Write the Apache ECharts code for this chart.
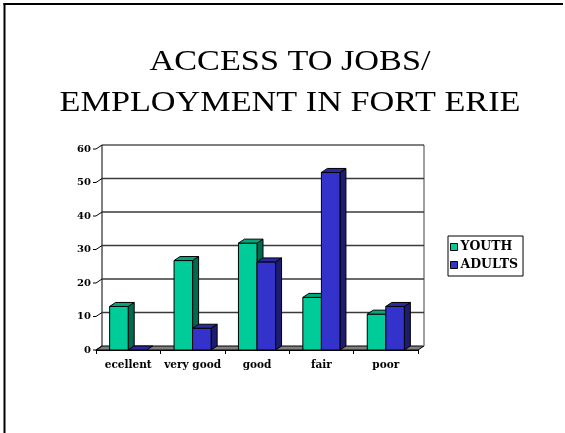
<!DOCTYPE html>
<html>
<head>
<meta charset="utf-8">
<script src="https://cdn.jsdelivr.net/npm/echarts@6/dist/echarts.min.js"></script>
<style>
  html, body { margin: 0; padding: 0; background: #fff; }
  #chart { width: 565px; height: 433px; }
</style>
</head>
<body>
<div id="chart"></div>
<script>
// Survey answers about access to jobs / employment
const categories = ['ecellent', 'very good', 'good', 'fair', 'poor'];
const youthValues = [13, 26.7, 31.9, 15.7, 10.7];
const adultValues = [0, 6.5, 26.3, 53, 13];
const seriesNames = ['YOUTH', 'ADULTS'];
const yTicks = [0, 10, 20, 30, 40, 50, 60];
const titleLines = ['ACCESS TO JOBS/', 'EMPLOYMENT IN FORT ERIE'];

// depth of the pseudo-3D walls and columns, in pixels
const DX = 6, DY = -4;
const labelFont = 'DejaVu Serif';

const palette = {
  youth: { front: '#00CC99', side: '#006A50', top: '#00A67C' },
  adults: { front: '#3333CC', side: '#1C1C70', top: '#2A2AA0' }
};

const chart = echarts.init(document.getElementById('chart'), null, { renderer: 'canvas' });

// back wall, floor and gridlines
function renderWall(params, api) {
  const cs = params.coordSys;
  const x0 = cs.x, x1 = cs.x + cs.width;
  const v = api.value(1);
  const y = api.coord([0, v])[1];
  const children = [];
  if (v === 0) {
    const yt = api.coord([0, yTicks[yTicks.length - 1]])[1];
    children.push({
      type: 'polygon',
      shape: { points: [[x0, y], [x1, y], [x1 + DX, y + DY], [x0 + DX, y + DY]] },
      style: { fill: '#808080', stroke: '#000', lineWidth: 1 }
    });
    children.push({
      type: 'line',
      shape: { x1: x0 + DX, y1: y + DY, x2: x0 + DX, y2: yt + DY },
      style: { stroke: '#000', lineWidth: 1 }
    });
    children.push({
      type: 'line',
      shape: { x1: x1 + DX, y1: y + DY, x2: x1 + DX, y2: yt + DY },
      style: { stroke: '#808080', lineWidth: 1.5 }
    });
  } else {
    const isTop = v === yTicks[yTicks.length - 1];
    children.push({
      type: 'line',
      shape: { x1: x0 + DX, y1: y + DY, x2: x1 + DX, y2: y + DY },
      style: { stroke: isTop ? '#000' : '#3a3a3a', lineWidth: isTop ? 1 : 1.3 }
    });
  }
  children.push({
    type: 'line',
    shape: { x1: x0 - 3, y1: y, x2: x0, y2: y },
    style: { stroke: '#000', lineWidth: 1 }
  });
  children.push({
    type: 'line',
    shape: { x1: x0, y1: y, x2: x0 + DX, y2: y + DY },
    style: { stroke: '#000', lineWidth: 1 }
  });
  return { type: 'group', children };
}

// one extruded column; side 0 sits left of the category centre, side 1 right
function makeColumn(side, colors) {
  return function (params, api) {
    const idx = api.value(0);
    const v = api.value(1);
    const top = api.coord([idx, v]);
    const base = api.coord([idx, 0]);
    const bw = api.size([1, 0])[0] * 0.288;
    const xl = side === 0 ? top[0] - bw : top[0];
    const xr = xl + bw;
    const yt = top[1], yb = base[1];
    const edge = { stroke: '#000', lineWidth: 1 };
    const children = [];
    if (yb - yt > 0.5) {
      children.push({
        type: 'polygon',
        shape: { points: [[xr, yt], [xr + DX, yt + DY], [xr + DX, yb + DY], [xr, yb]] },
        style: Object.assign({ fill: colors.side }, edge)
      });
      children.push({
        type: 'rect',
        shape: { x: xl, y: yt, width: bw, height: yb - yt },
        style: Object.assign({ fill: colors.front }, edge)
      });
    }
    children.push({
      type: 'polygon',
      shape: { points: [[xl, yt], [xr, yt], [xr + DX, yt + DY], [xl + DX, yt + DY]] },
      style: Object.assign({ fill: colors.top }, edge)
    });
    return { type: 'group', children };
  };
}

function titleText(text, y) {
  return {
    type: 'text', x: 290, y: y, scaleX: 1.18,
    style: {
      text: text, fill: '#000', align: 'center', verticalAlign: 'middle',
      fontFamily: 'Liberation Serif', fontSize: 29, fontWeight: 'normal'
    }
  };
}

const option = {
  animation: false,
  backgroundColor: '#fff',
  grid: { left: 96, right: 147, top: 149, bottom: 83, containLabel: false },
  xAxis: {
    type: 'category',
    data: categories,
    axisLine: { show: true, lineStyle: { color: '#000', width: 1 } },
    axisTick: { show: true, length: 4, lineStyle: { color: '#000' } },
    axisLabel: {
      interval: 0, hideOverlap: false,
      color: '#000', fontFamily: labelFont, fontWeight: 'bold', fontSize: 10.5, margin: 10
    },
    splitLine: { show: false }
  },
  yAxis: {
    type: 'value',
    min: 0, max: 60, interval: 10,
    axisLine: { show: false },
    axisTick: { show: false },
    splitLine: { show: false },
    axisLabel: {
      color: '#000', fontFamily: labelFont, fontWeight: 'bold', fontSize: 10, margin: 5
    }
  },
  legend: {
    orient: 'vertical',
    left: 448, top: 236,
    padding: [4, 5, 4, 2],
    itemWidth: 7, itemHeight: 7, itemGap: 4,
    icon: 'rect',
    borderColor: '#000', borderWidth: 1,
    itemStyle: { borderColor: '#000', borderWidth: 1 },
    textStyle: {
      color: '#000', fontFamily: labelFont, fontWeight: 'bold', fontSize: 12.5, lineHeight: 14,
      padding: [0, 0, 0, -2]
    },
    data: seriesNames
  },
  graphic: [
    { type: 'line', shape: { x1: 4.5, y1: 3, x2: 4.5, y2: 433 }, style: { stroke: '#000', lineWidth: 2 } },
    { type: 'line', shape: { x1: 3.5, y1: 4, x2: 563, y2: 4 }, style: { stroke: '#000', lineWidth: 2 } },
    titleText(titleLines[0], 62),
    titleText(titleLines[1], 103)
  ],
  series: [
    {
      type: 'custom',
      name: 'wall',
      renderItem: renderWall,
      data: yTicks.map(v => [0, v]),
      silent: true,
      z: 1
    },
    {
      type: 'custom',
      name: seriesNames[0],
      itemStyle: { color: palette.youth.front },
      renderItem: makeColumn(0, palette.youth),
      data: youthValues.map((v, i) => [i, v]),
      z: 2
    },
    {
      type: 'custom',
      name: seriesNames[1],
      itemStyle: { color: palette.adults.front },
      renderItem: makeColumn(1, palette.adults),
      data: adultValues.map((v, i) => [i, v]),
      z: 3
    }
  ]
};

chart.setOption(option);
</script>
</body>
</html>
